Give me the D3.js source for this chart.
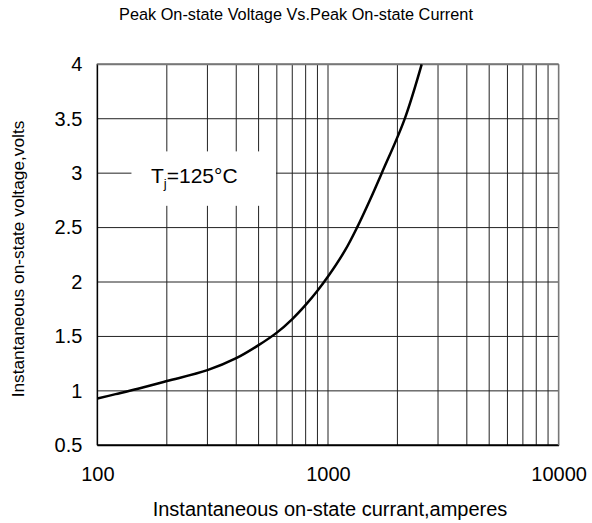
<!DOCTYPE html>
<html><head><meta charset="utf-8">
<script src="https://cdn.jsdelivr.net/npm/d3@7/dist/d3.min.js"></script>
<style>html,body{margin:0;padding:0;background:#fff;}svg{display:block;font-family:Arial,"Liberation Sans",sans-serif;}</style>
</head><body>
<script>
const currentA = [100, 120, 150, 200, 300, 400, 500, 600, 700, 800, 900, 1000, 1185, 1336, 1510, 1710, 2143, 2548];
const voltageV = [0.93, 0.97, 1.02, 1.09, 1.19, 1.30, 1.42, 1.535, 1.66, 1.79, 1.92, 2.05, 2.29, 2.50, 2.74, 3.00, 3.49, 4.00];
const xTickLabels = [100, 1000, 10000];
const yTickLabels = [0.5, 1, 1.5, 2, 2.5, 3, 3.5, 4];
const xGrid = [100,200,300,400,500,600,700,800,900,1000,2000,3000,4000,5000,6000,7000,8000,9000,10000];
const titleText = "Peak On-state Voltage Vs.Peak On-state Current";
const xTitle = "Instantaneous on-state currant,amperes";
const yTitle = "Instantaneous on-state voltage,volts";

const W = 592, H = 523;
const L = 97.4, R = 558.6, T = 64.3, B = 445.3;
const svg = d3.select("body").append("svg").attr("width", W).attr("height", H);
const x = d3.scaleLog().domain([100, 10000]).range([L, R]);
const y = d3.scaleLinear().domain([0.5, 4]).range([B, T]);
const FF = "Arial, Liberation Sans, sans-serif";

const g = svg.append("g");
g.selectAll(".vg").data(xGrid).join("line")
  .attr("x1", d => x(d)).attr("x2", d => x(d)).attr("y1", T).attr("y2", B)
  .attr("stroke", "#222").attr("stroke-width", 1);
g.selectAll(".hg").data(yTickLabels).join("line")
  .attr("x1", L).attr("x2", R).attr("y1", d => y(d)).attr("y2", d => y(d))
  .attr("stroke", "#222").attr("stroke-width", 1);

// label box (white) hiding grid
const bx0 = x(140.5), bx1 = x(595);
svg.append("rect").attr("x", bx0).attr("y", y(3.2)).attr("width", bx1 - bx0).attr("height", y(2.7) - y(3.2)).attr("fill", "#fff");

// borders
svg.append("line").attr("x1", L).attr("x2", L).attr("y1", T - 0.5).attr("y2", B).attr("stroke", "#000").attr("stroke-width", 1.5);
svg.append("line").attr("x1", L).attr("x2", R + 0.5).attr("y1", B).attr("y2", B).attr("stroke", "#000").attr("stroke-width", 2);
svg.append("line").attr("x1", L).attr("x2", R).attr("y1", T).attr("y2", T).attr("stroke", "#777").attr("stroke-width", 2);
svg.append("line").attr("x1", R).attr("x2", R).attr("y1", T).attr("y2", B).attr("stroke", "#777").attr("stroke-width", 1.5);

// curve
const pts = currentA.map((c, i) => [c, voltageV[i]]);
svg.append("path").datum(pts)
  .attr("d", d3.line().x(d => x(d[0])).y(d => y(d[1])).curve(d3.curveCatmullRom.alpha(0.5)))
  .attr("fill", "none").attr("stroke", "#000").attr("stroke-width", 2.5);

// axis tick labels via axes
const xAxis = d3.axisBottom(x).tickValues(xTickLabels).tickFormat(d3.format("d")).tickSize(0).tickPadding(22);
const xa = svg.append("g").attr("transform", `translate(0,${B})`).call(xAxis);
xa.select(".domain").remove();
xa.selectAll("text").attr("font-size", 20).attr("fill", "#000").attr("font-family", FF);

const yAxis = d3.axisLeft(y).tickValues(yTickLabels).tickFormat(d => String(d)).tickSize(0).tickPadding(15);
const ya = svg.append("g").attr("transform", `translate(${L},0)`).call(yAxis);
ya.select(".domain").remove();
ya.selectAll("text").attr("font-size", 20).attr("fill", "#000").attr("font-family", FF);

// titles
svg.append("text").attr("x", 296).attr("y", 20).attr("text-anchor", "middle").attr("font-size", 16.3).text(titleText);
svg.append("text").attr("x", 330).attr("y", 516).attr("text-anchor", "middle").attr("font-size", 20).text(xTitle);
svg.append("text").attr("transform", `translate(24,259) rotate(-90)`).attr("text-anchor", "middle").attr("font-size", 17.3).text(yTitle);

// Tj label
const tl = svg.append("text").attr("x", 151).attr("y", 183).attr("font-size", 21);
tl.append("tspan").text("T");
tl.append("tspan").attr("font-size", 13).attr("dy", 5).text("j");
tl.append("tspan").attr("dy", -5).text("=125°C");
</script>
</body></html>
